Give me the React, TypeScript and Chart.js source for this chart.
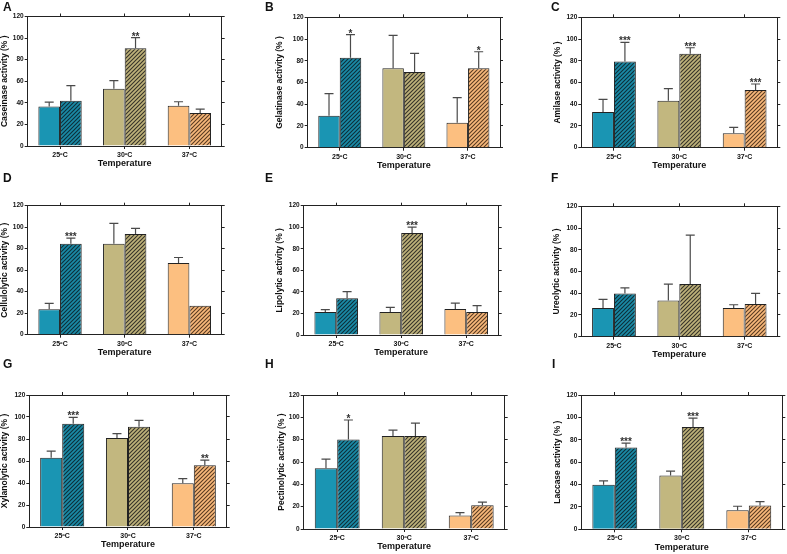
import React, { useEffect, useRef } from 'react';
import { Chart, registerables } from 'chart.js';

Chart.register(...registerables);

const FONT = '"Liberation Sans", Arial, sans-serif';

const categories = ['25ºC', '30ºC', '37ºC'];

// A - Caseinase
const caseinaseSolid = [36.5, 53, 37.3];
const caseinaseSolidSd = [4.2, 7.6, 3.7];
const caseinaseHatched = [42, 90.5, 30.5];
const caseinaseHatchedSd = [14, 10, 3.7];
const caseinaseStars = ['', '**', ''];

// B - Gelatinase
const gelatinaseSolid = [29.4, 73, 23];
const gelatinaseSolidSd = [20.3, 30.4, 23];
const gelatinaseHatched = [82.8, 69.6, 73];
const gelatinaseHatchedSd = [21.2, 17.2, 15.3];
const gelatinaseStars = ['*', '', '*'];

// C - Amilase
const amilaseSolid = [32.8, 43.3, 13.2];
const amilaseSolidSd = [11.7, 11, 5.5];
const amilaseHatched = [79.4, 86.5, 53];
const amilaseHatchedSd = [17.6, 5.5, 5.6];
const amilaseStars = ['***', '***', '***'];

// D - Cellulolytic
const cellulolyticSolid = [23.6, 84.6, 66.6];
const cellulolyticSolidSd = [5.6, 19, 5.2];
const cellulolyticHatched = [84.6, 93.6, 27];
const cellulolyticHatchedSd = [5.3, 5.3, 0];
const cellulolyticStars = ['***', '', ''];

// E - Lipolytic
const lipolyticSolid = [21.4, 21.4, 24.2];
const lipolyticSolidSd = [2.2, 4.3, 5.3];
const lipolyticHatched = [34.1, 94.6, 21.4];
const lipolyticHatchedSd = [6.2, 5.6, 5.9];
const lipolyticStars = ['', '***', ''];

// F - Ureolytic
const ureolyticSolid = [26.3, 33.4, 26.3];
const ureolyticSolidSd = [8, 15, 3.1];
const ureolyticHatched = [39.8, 48.4, 30];
const ureolyticHatchedSd = [5.2, 45, 9.8];
const ureolyticStars = ['', '', ''];

// G - Xylanolytic
const xylanolyticSolid = [62.9, 80.8, 39.8];
const xylanolyticSolidSd = [6.1, 4, 4.2];
const xylanolyticHatched = [93.9, 91.2, 56.2];
const xylanolyticHatchedSd = [5.8, 5.8, 4.6];
const xylanolyticStars = ['***', '', '**'];

// H - Pectinolytic
const pectinolyticSolid = [54.5, 83.2, 12];
const pectinolyticSolidSd = [8.1, 5.4, 2.7];
const pectinolyticHatched = [80.2, 83.2, 21.3];
const pectinolyticHatchedSd = [17.4, 11.7, 2.7];
const pectinolyticStars = ['*', '', ''];

// I - Laccase
const laccaseSolid = [39.7, 48, 17];
const laccaseSolidSd = [3.6, 4, 3.6];
const laccaseHatched = [73.1, 91.3, 21.2];
const laccaseHatchedSd = [3.9, 8.1, 3.6];
const laccaseStars = ['***', '***', ''];

const yTicks = { min: 0, max: 120, step: 20 };

const solidColors = ['#1a95b3', '#c2b77f', '#fcbf80'];
const hatchBase = ['#1a8aa6', '#beb27a', '#f8b97b'];
const hatchStripe = ['#0e2f39', '#37342a', '#5a3b22'];

type PanelProps = {
  letter: string;
  yTitle: string;
  solid: number[];
  solidSd: number[];
  hatched: number[];
  hatchedSd: number[];
  stars: string[];
  cellLeft: number;
  l: number; t: number; r: number; b: number;
  titleX: number;
  letterX: number; letterY: number;
};

function makeHatch(base: string, stripe: string) {
  const c = document.createElement('canvas');
  c.width = 4; c.height = 4;
  const g = c.getContext('2d')!;
  g.fillStyle = base;
  g.fillRect(0, 0, 4, 4);
  g.strokeStyle = stripe;
  g.lineWidth = 1.1;
  g.beginPath();
  g.moveTo(0, 4); g.lineTo(4, 0);
  g.moveTo(-1, 1); g.lineTo(1, -1);
  g.moveTo(3, 5); g.lineTo(5, 3);
  g.stroke();
  return g.createPattern(c, 'repeat')!;
}

function Panel(p: PanelProps) {
  const ref = useRef<HTMLCanvasElement | null>(null);

  const canvasLeft = p.cellLeft;
  const canvasTop = Math.floor(p.t - 8);
  const canvasW = Math.ceil(p.r + 8) - canvasLeft;
  const canvasH = Math.ceil(p.b + 26) - canvasTop;
  const padTop = (p.t - 8) - canvasTop + 3;
  const padRight = canvasW - (p.r - canvasLeft) - 5;
  const padBottom = canvasH - (p.b - canvasTop) - 26;
  const yW = p.l - canvasLeft;

  useEffect(() => {
    if (!ref.current) return;
    const patterns = hatchBase.map((c, i) => makeHatch(c, hatchStripe[i]));
    const sds = [p.solidSd, p.hatchedSd];
    const starSets = [['', '', ''], p.stars];

    const errPlugin = {
      id: 'errs',
      afterDatasetsDraw(chart: any) {
        const ctx = chart.ctx;
        const ys = chart.scales.y;
        ctx.save();
        chart.data.datasets.forEach((ds: any, di: number) => {
          const meta = chart.getDatasetMeta(di);
          meta.data.forEach((el: any, i: number) => {
            const v = ds.data[i];
            const sd = sds[di][i];
            const top = ys.getPixelForValue(v + sd);
            if (sd > 0) {
              ctx.strokeStyle = '#4a4a4a';
              ctx.lineWidth = 1.2;
              ctx.beginPath();
              ctx.moveTo(el.x, el.y);
              ctx.lineTo(el.x, top);
              ctx.moveTo(el.x - 4.5, top);
              ctx.lineTo(el.x + 4.5, top);
              ctx.stroke();
            }
            const s = starSets[di][i];
            if (s) {
              ctx.fillStyle = '#333';
              ctx.font = `bold 10px ${FONT}`;
              ctx.textAlign = 'center';
              ctx.textBaseline = 'alphabetic';
              ctx.fillText(s, el.x, top + 2);
            }
          });
        });
        ctx.restore();
      },
    };

    const axisBorder = { display: true, color: '#222', width: 1 };
    const chart = new Chart(ref.current, {
      type: 'bar',
      data: {
        labels: categories,
        datasets: [
          {
            data: p.solid,
            backgroundColor: solidColors,
            borderColor: '#222',
            borderWidth: 1,
            xAxisID: 'x',
            yAxisID: 'y',
          },
          {
            data: p.hatched,
            backgroundColor: patterns as any,
            borderColor: '#222',
            borderWidth: 1,
            xAxisID: 'x',
            yAxisID: 'y',
          },
        ],
      },
      options: {
        responsive: false,
        animation: false,
        devicePixelRatio: 1,
        layout: { padding: { left: 0, top: padTop, right: padRight, bottom: padBottom } },
        plugins: { legend: { display: false }, tooltip: { enabled: false } },
        datasets: { bar: { categoryPercentage: 0.67, barPercentage: 1 } },
        scales: {
          x: {
            type: 'category',
            position: 'bottom',
            offset: true,
            grid: { display: true, drawOnChartArea: false, offset: false, tickLength: 3, color: '#222' },
            border: axisBorder,
            ticks: {
              color: '#111',
              font: { family: FONT, size: 7, weight: 'bold', lineHeight: 1.2 },
              padding: 2,
              maxRotation: 0,
              autoSkip: false,
            },
            title: {
              display: true,
              text: 'Temperature',
              color: '#111',
              font: { family: FONT, size: 9, weight: 'bold', lineHeight: 1 },
              padding: { top: 0, bottom: 3.5 },
            },
            afterFit: (s: any) => { s.height = 26; },
          },
          x2: {
            type: 'category',
            labels: categories,
            position: 'top',
            offset: true,
            grid: { display: true, drawOnChartArea: false, offset: false, tickLength: 3, color: '#222' },
            border: axisBorder,
            ticks: { display: false },
            afterFit: (s: any) => { s.height = 5; },
          },
          y: {
            type: 'linear',
            position: 'left',
            min: yTicks.min,
            max: yTicks.max,
            ticks: {
              stepSize: yTicks.step,
              color: '#111',
              font: { family: FONT, size: 6.5, weight: 'bold' },
              padding: 1,
            },
            grid: { display: true, drawOnChartArea: false, tickLength: 3, color: '#222' },
            border: axisBorder,
            title: {
              display: true,
              text: p.yTitle,
              color: '#111',
              font: { family: FONT, size: 8.5, weight: 'bold', lineHeight: 1 },
              padding: { top: p.titleX - canvasLeft - 4.25, bottom: 0 },
            },
            afterFit: (s: any) => { s.width = yW; },
          },
          y2: {
            type: 'linear',
            position: 'right',
            min: yTicks.min,
            max: yTicks.max,
            ticks: { stepSize: yTicks.step, display: false },
            grid: { display: true, drawOnChartArea: false, tickLength: 3, color: '#222' },
            border: axisBorder,
            afterFit: (s: any) => { s.width = 5; },
          },
        },
      } as any,
      plugins: [errPlugin],
    });
    return () => chart.destroy();
  }, []);

  return (
    <>
      <canvas
        ref={ref}
        width={canvasW}
        height={canvasH}
        style={{ position: 'absolute', left: canvasLeft, top: canvasTop, width: canvasW, height: canvasH }}
      />
      <div
        style={{
          position: 'absolute',
          left: p.letterX,
          top: p.letterY,
          font: `bold 12px ${FONT}`,
          lineHeight: '12px',
          color: '#111',
        }}
      >
        {p.letter}
      </div>
    </>
  );
}

export default function App() {
  return (
    <div style={{ position: 'absolute', left: 0, top: 0, width: 787, height: 554, background: '#fff', overflow: 'hidden' }}>
      <Panel letter="A" yTitle="Caseinase activity (% )" solid={caseinaseSolid} solidSd={caseinaseSolidSd}
        hatched={caseinaseHatched} hatchedSd={caseinaseHatchedSd} stars={caseinaseStars}
        cellLeft={0} l={27.7} t={16.5} r={221.7} b={146} titleX={5} letterX={3} letterY={1.4} />
      <Panel letter="B" yTitle="Gelatinase activity (% )" solid={gelatinaseSolid} solidSd={gelatinaseSolidSd}
        hatched={gelatinaseHatched} hatchedSd={gelatinaseHatchedSd} stars={gelatinaseStars}
        cellLeft={262} l={307.7} t={17.3} r={500} b={147.7} titleX={280} letterX={265} letterY={1.4} />
      <Panel letter="C" yTitle="Amilase activity (% )" solid={amilaseSolid} solidSd={amilaseSolidSd}
        hatched={amilaseHatched} hatchedSd={amilaseHatchedSd} stars={amilaseStars}
        cellLeft={524} l={581.3} t={17.3} r={777.3} b={147.7} titleX={558} letterX={551} letterY={1.4} />
      <Panel letter="D" yTitle="Cellulolytic activity (% )" solid={cellulolyticSolid} solidSd={cellulolyticSolidSd}
        hatched={cellulolyticHatched} hatchedSd={cellulolyticHatchedSd} stars={cellulolyticStars}
        cellLeft={0} l={27.7} t={205.7} r={221.7} b={334.7} titleX={5} letterX={3} letterY={172.4} />
      <Panel letter="E" yTitle="Lipolytic activity (% )" solid={lipolyticSolid} solidSd={lipolyticSolidSd}
        hatched={lipolyticHatched} hatchedSd={lipolyticHatchedSd} stars={lipolyticStars}
        cellLeft={262} l={303.7} t={205.7} r={498.7} b={335} titleX={280} letterX={265} letterY={172.4} />
      <Panel letter="F" yTitle="Ureolytic activity (% )" solid={ureolyticSolid} solidSd={ureolyticSolidSd}
        hatched={ureolyticHatched} hatchedSd={ureolyticHatchedSd} stars={ureolyticStars}
        cellLeft={524} l={581.3} t={206.3} r={777.3} b={336.7} titleX={557} letterX={551} letterY={172.4} />
      <Panel letter="G" yTitle="Xylanolytic activity (% )" solid={xylanolyticSolid} solidSd={xylanolyticSolidSd}
        hatched={xylanolyticHatched} hatchedSd={xylanolyticHatchedSd} stars={xylanolyticStars}
        cellLeft={0} l={29.3} t={395} r={226.7} b={527} titleX={5} letterX={3} letterY={358.4} />
      <Panel letter="H" yTitle="Pectinolytic activity (% )" solid={pectinolyticSolid} solidSd={pectinolyticSolidSd}
        hatched={pectinolyticHatched} hatchedSd={pectinolyticHatchedSd} stars={pectinolyticStars}
        cellLeft={262} l={303.7} t={395} r={504.7} b={529} titleX={282} letterX={265} letterY={358.4} />
      <Panel letter="I" yTitle="Laccase activity (% )" solid={laccaseSolid} solidSd={laccaseSolidSd}
        hatched={laccaseHatched} hatchedSd={laccaseHatchedSd} stars={laccaseStars}
        cellLeft={524} l={581.3} t={395} r={782.3} b={529.3} titleX={558} letterX={552} letterY={358.4} />
    </div>
  );
}
